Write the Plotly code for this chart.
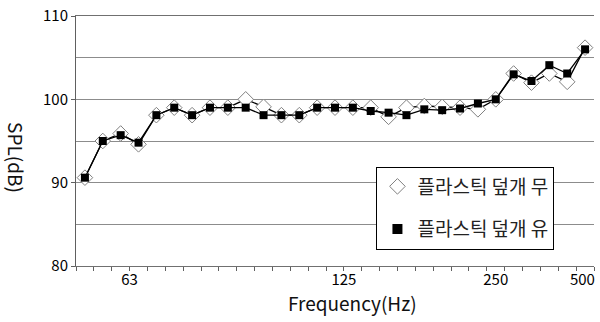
import plotly.graph_objects as go

# category index of each measured band (29 bands)
band_index = list(range(29))

spl_without_cover = [90.6, 95.0, 95.9, 94.6, 98.1, 99.0, 98.1, 99.0, 99.0, 100.0,
                     99.1, 98.1, 98.1, 99.0, 99.0, 99.0, 99.0, 97.9, 99.0, 99.2,
                     99.1, 99.0, 98.8, 100.0, 103.1, 102.0, 103.1, 102.1, 106.2]
spl_with_cover = [90.6, 95.0, 95.7, 94.8, 98.1, 99.0, 98.1, 99.0, 99.0, 99.0,
                  98.1, 98.1, 98.1, 99.0, 99.0, 99.0, 98.6, 98.4, 98.1, 98.8,
                  98.7, 98.9, 99.5, 100.0, 103.0, 102.2, 104.1, 103.1, 106.0]

tick_positions = [2.5, 14.5, 23, 27.85]
tick_labels = ["63", "125", "250", "500"]

name_without = "플라스틱 덮개 무"
name_with = "플라스틱 덮개 유"
x_title = "Frequency(Hz)"
y_title = "SPL(dB)"

FONT = "Noto Sans CJK KR, Noto Sans, sans-serif"

fig = go.Figure()

fig.add_trace(go.Scatter(
    x=band_index, y=spl_without_cover, mode="lines+markers",
    line=dict(color="black", width=1.3),
    marker=dict(symbol="diamond", size=12, color="white",
                line=dict(color="#808080", width=1)),
    showlegend=False, name=name_without))
fig.add_trace(go.Scatter(
    x=band_index, y=spl_with_cover, mode="lines+markers",
    line=dict(color="black", width=1.3),
    marker=dict(symbol="square", size=8, color="black",
                line=dict(color="black", width=0)),
    showlegend=False, name=name_with))

# legend entries (markers only)
fig.add_trace(go.Scatter(
    x=[None], y=[None], mode="markers", name=name_without, legendgroup="a",
    marker=dict(symbol="diamond", size=12, color="white",
                line=dict(color="#808080", width=1))))
fig.add_trace(go.Scatter(
    x=[None], y=[None], mode="markers", name=name_with, legendgroup="b",
    marker=dict(symbol="square", size=10, color="black")))

fig.update_layout(
    width=600, height=322,
    margin=dict(l=76, r=6, t=16, b=56, autoexpand=False),
    paper_bgcolor="white", plot_bgcolor="white",
    font=dict(family=FONT, color="black", size=15),
    legend=dict(x=0.58, y=0.398, xanchor="left", yanchor="top",
                bgcolor="white", bordercolor="black", borderwidth=1,
                font=dict(size=19, family=FONT, color="#222222"),
                tracegroupgap=15, itemwidth=30),
    xaxis=dict(range=[-0.5, 28.5], showgrid=False, zeroline=False,
               showline=True, linecolor="#707070", linewidth=1, mirror=True,
               tickmode="array", tickvals=tick_positions, ticktext=tick_labels,
               ticks="", tickfont=dict(size=15), automargin=False,
               ticklabeloverflow="allow",
               minor=dict(tick0=-0.5, dtick=1, ticks="outside", ticklen=4,
                          tickcolor="#606060", showgrid=False)),
    yaxis=dict(range=[80, 110], dtick=10, showgrid=True, gridcolor="#8c8c8c",
               gridwidth=1, zeroline=False, showline=True, linecolor="#606060",
               linewidth=1, ticks="outside", ticklen=4, tickcolor="#606060",
               tickfont=dict(size=15), automargin=False,
               ticklabeloverflow="allow",
               minor=dict(dtick=5, showgrid=True, gridcolor="#8c8c8c", gridwidth=1,
                          ticks="")),
    annotations=[
        dict(text=x_title, xref="paper", yref="paper", x=0.533, y=-0.144,
             xanchor="center", yanchor="middle", showarrow=False,
             font=dict(size=19, family=FONT, color="#111111")),
        dict(text=y_title, xref="paper", yref="paper", x=-0.114, y=0.432,
             xanchor="center", yanchor="middle", showarrow=False, textangle=90,
             font=dict(size=19, family=FONT, color="#111111")),
    ],
)

# remove the page's default 8px body margin so the figure fills the window
fig.write_html("out.html", config={"displayModeBar": False},
               post_script="document.body.style.margin='0px';")
